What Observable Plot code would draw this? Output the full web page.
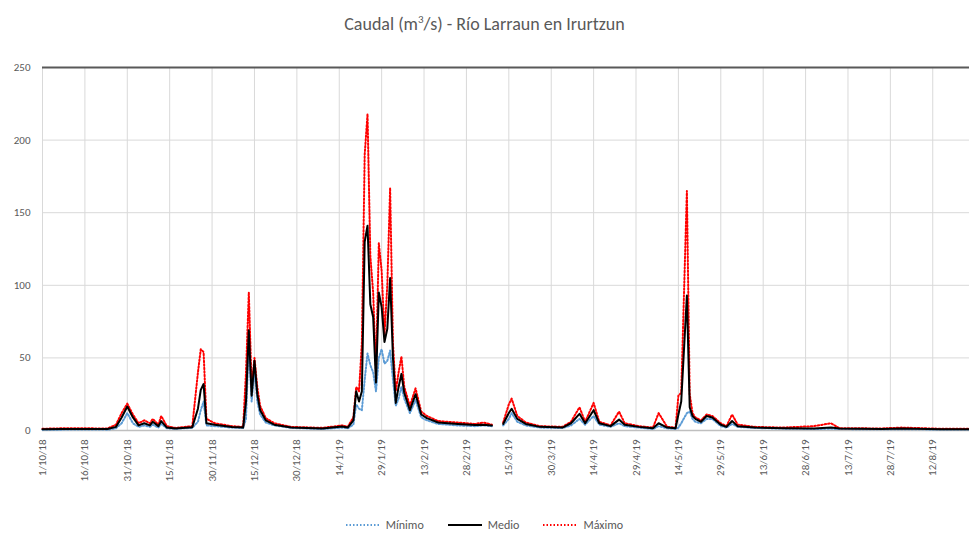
<!DOCTYPE html>
<html>
<head>
<meta charset="utf-8">
<script src="https://cdn.jsdelivr.net/npm/d3@7"></script>
<script src="https://cdn.jsdelivr.net/npm/@observablehq/plot@0.6"></script>
<style>
  body { margin: 0; background: #fff; font-family: Calibri, Carlito, "Liberation Sans", sans-serif; color: #595959; }
  #title { height: 45px; line-height: 40px; text-align: center; font-size: 18px; }
  #legend { text-align: center; font-size: 12px; margin-top: 12px; }
  #legend span { margin: 0 12px; display: inline-flex; align-items: center; gap: 6px; }
</style>
</head>
<body>
<div id="title">Caudal (m<sup style="font-size:11px">3</sup>/s) - Río Larraun en Irurtzun</div>
<div id="chart"></div>
<div id="legend"></div>
<script>
// fechas y valores (null = sin dato)
const dates = ["2018-10-01","2018-10-08","2018-10-16","2018-10-24","2018-10-27","2018-10-29","2018-10-31","2018-11-02","2018-11-04","2018-11-06","2018-11-08","2018-11-09","2018-11-11","2018-11-12","2018-11-14","2018-11-17","2018-11-23","2018-11-25","2018-11-26","2018-11-27","2018-11-28","2018-12-01","2018-12-07","2018-12-11","2018-12-12","2018-12-13","2018-12-14","2018-12-15","2018-12-16","2018-12-17","2018-12-19","2018-12-22","2018-12-28","2019-01-08","2019-01-15","2019-01-17","2019-01-19","2019-01-20","2019-01-21","2019-01-22","2019-01-23","2019-01-24","2019-01-25","2019-01-26","2019-01-27","2019-01-28","2019-01-29","2019-01-30","2019-01-31","2019-02-01","2019-02-02","2019-02-03","2019-02-04","2019-02-05","2019-02-06","2019-02-08","2019-02-10","2019-02-12","2019-02-14","2019-02-18","2019-02-25","2019-03-03","2019-03-06","2019-03-09","2019-03-11","2019-03-13","2019-03-15","2019-03-16","2019-03-18","2019-03-21","2019-03-26","2019-04-03","2019-04-06","2019-04-09","2019-04-11","2019-04-14","2019-04-16","2019-04-20","2019-04-23","2019-04-25","2019-04-30","2019-05-05","2019-05-07","2019-05-10","2019-05-13","2019-05-14","2019-05-15","2019-05-17","2019-05-18","2019-05-19","2019-05-20","2019-05-22","2019-05-24","2019-05-26","2019-05-29","2019-05-31","2019-06-02","2019-06-04","2019-06-10","2019-06-20","2019-07-01","2019-07-07","2019-07-10","2019-07-25","2019-08-01","2019-08-15","2019-08-28"];
const minimo = [0.5,0.6,0.7,0.6,1.5,5,12,5,2.5,3.5,2.5,4,2,4.5,1.5,1.2,1.8,6,14,20,3.5,3,2,1.7,8,60,20,42,20,11,5.5,3.5,1.8,1,2,1.5,4,18,15,14,35,53,45,40,27,50,56,46,48,55,35,17,22,30,22,12,21,9,7,4.5,3.5,3,3.5,3,null,3.5,8,12,6,3.5,2,1.7,3.5,8,4,10,4,2.5,5,3,2,1,3,1.5,1,2,5,12,13,8,6,5,8,8,3,2,4.5,2.5,1.7,1.3,1,1.2,1,0.8,0.9,0.7,0.6];
const medio = [0.8,1,1,1,2.5,9,16.5,9,3.5,5,3.5,6,3,6.5,2,1.3,2.3,15,28,32,5,4,2.4,2,20,69,24,48,25,14,7,4,2,1.3,2.8,2,7,27,20,27,130,141,87,78,33,95,85,61,70,105,50,19,30,39,26,14,25,11,8.5,5.5,4.5,3.8,4,3.5,null,4.5,12,15,8,4.5,2.5,2,5,11.5,5,14,5,3,7.5,4,2.5,1.5,5,2,1.5,11,20,93,16,10,8,6,10,9,4,2.5,6.5,3,2,1.6,1.4,2,1.3,1,1.3,0.9,0.8];
const maximo = [1.2,1.5,1.5,1.4,4,12,18.5,11,5,7,5,8,4,10,3,1.8,3,40,56,54,8,5,3,2.5,40,95,30,50,30,17,8.5,5,2.5,1.8,3.5,2.5,9,30,27,60,190,218,120,95,40,129,110,66,100,167,60,27,40,51,30,17,29,13,10,6.5,5.5,4.5,5.5,4,null,5.5,18,22,10,5.5,3,2.5,6,16,6,19,6,3.5,13,5,3,2,12,2.5,2,24,26,165,25,12,9,7,11,10,5,3,11,4,2.5,2,3,5,1.6,1.4,2,1.2,1.1];
const tickDates = ["2018-10-01","2018-10-16","2018-10-31","2018-11-15","2018-11-30","2018-12-15","2018-12-30","2019-01-14","2019-01-29","2019-02-13","2019-02-28","2019-03-15","2019-03-30","2019-04-14","2019-04-29","2019-05-14","2019-05-29","2019-06-13","2019-06-28","2019-07-13","2019-07-28","2019-08-12","2019-08-27"];
const yTicks = [0, 50, 100, 150, 200, 250];

const parse = d3.utcParse("%Y-%m-%d");
const rows = dates.map((d, i) => ({
  date: parse(d),
  min: minimo[i] ?? NaN,
  med: medio[i] ?? NaN,
  max: maximo[i] ?? NaN
}));
const ticks = tickDates.map(parse);
const fmt = d => `${d.getUTCDate()}/${d.getUTCMonth() + 1}/${String(d.getUTCFullYear()).slice(2)}`;

const chart = Plot.plot({
  width: 969,
  height: 460,
  marginLeft: 42,
  marginRight: 0,
  marginTop: 22,
  marginBottom: 75,
  style: { fontSize: "11px", color: "#595959", fontFamily: "Calibri, Carlito, 'Liberation Sans', sans-serif" },
  x: { type: "utc", domain: [parse("2018-10-01"), parse("2019-08-25")], ticks: ticks, tickFormat: fmt, tickRotate: -90, tickSize: 0, label: null },
  y: { domain: [0, 250], ticks: yTicks, tickSize: 0, label: null, tickPadding: 12 },
  marks: [
    Plot.gridY(yTicks, { stroke: "#d9d9d9", strokeOpacity: 1 }),
    Plot.gridX(ticks, { stroke: "#d9d9d9", strokeOpacity: 1 }),
    Plot.ruleY([0], { stroke: "#bfbfbf", strokeWidth: 1.5 }),
    Plot.ruleY([250], { stroke: "#595959", strokeWidth: 2 }),
    Plot.lineY(rows, { x: "date", y: "min", stroke: "#5b9bd5", strokeWidth: 2, strokeDasharray: "1.5,2" }),
    Plot.lineY(rows, { x: "date", y: "max", stroke: "#ff0000", strokeWidth: 2, strokeDasharray: "1.5,2" }),
    Plot.lineY(rows, { x: "date", y: "med", stroke: "#000", strokeWidth: 2 })
  ]
});
document.getElementById("chart").append(chart);

const legend = [["Mínimo", "#5b9bd5", "1.5,2"], ["Medio", "#000", null], ["Máximo", "#ff0000", "1.5,2"]];
document.getElementById("legend").innerHTML = legend.map(([t, c, dash]) =>
  `<span><svg width="34" height="6"><line x1="0" y1="3" x2="34" y2="3" stroke="${c}" stroke-width="2" ${dash ? `stroke-dasharray="${dash}"` : ""}/></svg>${t}</span>`
).join("");
</script>
</body>
</html>
